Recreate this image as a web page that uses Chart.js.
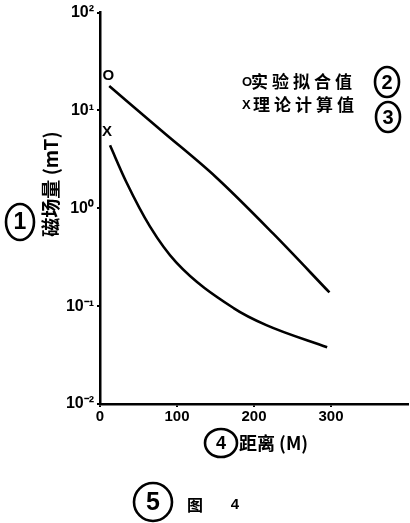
<!DOCTYPE html>
<html>
<head>
<meta charset="utf-8">
<script src="https://cdn.jsdelivr.net/npm/chart.js@4"></script>
<style>
  body { margin: 0; background: #fff; }
  #wrap { width: 410px; height: 523px; position: relative; }
</style>
</head>
<body>
<div id="wrap"><canvas id="fieldChart"></canvas></div>
<script>
// data
const distFit = [12, 80, 150, 225, 298];
const fieldFit = [17.8, 6.2, 2.1, 0.55, 0.138];
const distCalc = [13, 34, 65, 99, 174, 216, 295];
const fieldCalc = [4.4, 1.87, 0.65, 0.28, 0.095, 0.064, 0.038];

const xTicks = [0, 100, 200, 300];
const yTicks = [0.01, 0.1, 1, 10, 100];
const yTickLabels = ['10⁻²', '10⁻¹', '10⁰', '10¹', '10²'];

const seriesNames = ['实验拟合值', '理论计算值'];
const seriesMarks = ['O', 'X'];
const yTitle = '磁场量 (mT)';
const xTitle = '距离 (M)';
const caption = ['图', '4'];

const cjk = '"Noto Sans CJK SC", sans-serif';
const latin = '"Liberation Sans", sans-serif';

function toPoints(xs, ys) {
    return xs.map((x, i) => ({ x: x, y: ys[i] }));
}

function circled(ctx, cx, cy, rx, ry, digit) {
    ctx.save();
    ctx.lineWidth = 2.6;
    ctx.strokeStyle = '#000';
    ctx.beginPath();
    ctx.ellipse(cx, cy, rx, ry, 0, 0, Math.PI * 2);
    ctx.stroke();
    ctx.fillStyle = '#000';
    ctx.font = 'bold ' + Math.round(ry * 1.3) + 'px ' + latin;
    ctx.textAlign = 'center';
    ctx.textBaseline = 'middle';
    ctx.fillText(digit, cx, cy + 1);
    ctx.restore();
}

// spaced out characters, like the hand lettering
function spaced(ctx, text, x, y, step) {
    for (let i = 0; i < text.length; i++) {
        ctx.fillText(text[i], x + i * step, y);
    }
}

const annotations = {
    id: 'annotations',
    afterDraw(chart) {
        const ctx = chart.ctx;
        const xs = chart.scales.x, ys = chart.scales.y;
        ctx.save();
        ctx.fillStyle = '#000';
        ctx.textBaseline = 'middle';

        // O / X marks at the start of each curve
        ctx.font = 'bold 15px ' + latin;
        ctx.textAlign = 'center';
        ctx.fillText(seriesMarks[0], xs.getPixelForValue(distFit[0]) - 1, ys.getPixelForValue(fieldFit[0]) - 10);
        ctx.fillText(seriesMarks[1], xs.getPixelForValue(distCalc[0]) - 3, ys.getPixelForValue(fieldCalc[0]) - 13);

        // key
        ctx.textAlign = 'left';
        ctx.font = 'bold 13px ' + latin;
        ctx.fillText(seriesMarks[0], 242, 82);
        ctx.fillText(seriesMarks[1], 242, 105);
        ctx.font = 'bold 17px ' + cjk;
        spaced(ctx, seriesNames[0], 251, 82, 21);
        spaced(ctx, seriesNames[1], 253, 105, 21);
        circled(ctx, 387, 82, 12, 15, '2');
        circled(ctx, 388, 117, 12, 15, '3');

        // y title, rotated
        ctx.save();
        ctx.translate(51, 184);
        ctx.rotate(-Math.PI / 2);
        ctx.textAlign = 'center';
        ctx.font = 'bold 19px ' + cjk;
        ctx.fillText(yTitle, 0, 0);
        ctx.restore();
        circled(ctx, 20, 222, 14, 18, '1');

        // x title
        ctx.textAlign = 'left';
        ctx.font = 'bold 18px ' + cjk;
        ctx.fillText(xTitle, 239, 443);
        circled(ctx, 221, 443, 16, 14, '4');

        // caption
        circled(ctx, 153, 502, 19, 19, '5');
        ctx.textAlign = 'center';
        ctx.font = 'bold 16px ' + cjk;
        ctx.fillText(caption[0], 195, 505);
        ctx.font = 'bold 15px ' + latin;
        ctx.fillText(caption[1], 235, 505);
        ctx.restore();
    }
};

new Chart(document.getElementById('fieldChart'), {
    type: 'line',
    data: {
        datasets: [
            {
                label: seriesNames[0],
                data: toPoints(distFit, fieldFit),
                borderColor: '#000',
                borderWidth: 2.6,
                pointRadius: 0,
                cubicInterpolationMode: 'monotone',
                fill: false
            },
            {
                label: seriesNames[1],
                data: toPoints(distCalc, fieldCalc),
                borderColor: '#000',
                borderWidth: 2.6,
                pointRadius: 0,
                cubicInterpolationMode: 'monotone',
                fill: false
            }
        ]
    },
    options: {
        responsive: true,
        maintainAspectRatio: false,
        animation: false,
        layout: { padding: { top: 10, right: 2, left: 0, bottom: 0 } },
        plugins: {
            legend: { display: false },
            tooltip: { enabled: false }
        },
        scales: {
            x: {
                type: 'linear',
                min: 0,
                max: 400,
                afterBuildTicks: s => { s.ticks = xTicks.map(v => ({ value: v })); },
                afterFit: s => { s.height = 119; },
                border: { color: '#000', width: 2.5 },
                grid: { display: true, drawOnChartArea: false, tickLength: 3, color: '#000', lineWidth: 2 },
                ticks: {
                    color: '#000',
                    padding: 1,
                    font: { family: latin, size: 15, weight: 'bold' }
                }
            },
            y: {
                type: 'logarithmic',
                min: 0.01,
                max: 100,
                afterBuildTicks: s => { s.ticks = yTicks.map(v => ({ value: v })); },
                afterFit: s => { s.width = 100; },
                border: { color: '#000', width: 2.5 },
                grid: { display: true, drawOnChartArea: false, tickLength: 3, color: '#000', lineWidth: 2 },
                ticks: {
                    color: '#000',
                    padding: 3,
                    font: { family: latin, size: 16, weight: 'bold' },
                    callback: v => {
                        const i = yTicks.indexOf(v);
                        return i >= 0 ? yTickLabels[i] : '';
                    }
                }
            }
        }
    },
    plugins: [annotations]
});
</script>
</body>
</html>
